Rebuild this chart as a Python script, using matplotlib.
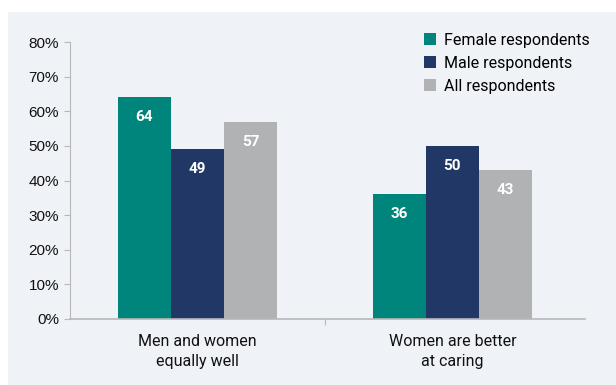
import matplotlib
matplotlib.use("Agg")
import matplotlib.pyplot as plt
from matplotlib.patches import Rectangle
from matplotlib import font_manager
import numpy as np

categories = ["Men and women\nequally well", "Women are better\nat caring"]
series_names = ["Female respondents", "Male respondents", "All respondents"]
female = [64, 36]
male = [49, 50]
all_resp = [57, 43]
yticks = [0, 10, 20, 30, 40, 50, 60, 70, 80]
ytick_labels = ["0%", "10%", "20%", "30%", "40%", "50%", "60%", "70%", "80%"]

colors = ["#00857d", "#213765", "#b1b2b4"]
bg = "#eff2f7"

names = {f.name for f in font_manager.fontManager.ttflist}
cond = "Liberation Sans Narrow" if "Liberation Sans Narrow" in names else "Roboto"
plt.rcParams["font.family"] = ["Liberation Sans", "DejaVu Sans"]

fig = plt.figure(figsize=(6.16, 3.85), dpi=100)
fig.patch.set_facecolor("white")
fig.add_artist(Rectangle((8 / 616, 0), 1, 1 - 12 / 385, transform=fig.transFigure,
                         facecolor=bg, edgecolor="none", zorder=0))

ax = fig.add_axes([70 / 616, (385 - 319) / 385, (585 - 70) / 616, (319 - 42) / 385])
ax.set_facecolor("none")

x = np.arange(len(categories))
w = 0.208
for i, (vals, name) in enumerate(zip([female, male, all_resp], series_names)):
    bars = ax.bar(x + (i - 1) * w, vals, width=w, color=colors[i], label=name, zorder=2)
    for b, v in zip(bars, vals):
        ax.text(b.get_x() + b.get_width() / 2, v - 5.8, str(v), ha="center", va="center",
                color="white", fontsize=11, fontweight="bold", family=cond, zorder=3)

ax.set_xlim(-0.5, 1.52)
ax.set_ylim(0, 80)
ax.set_yticks(yticks)
ax.set_yticklabels(ytick_labels, fontsize=11)
ax.set_xticks([0.5])
ax.set_xticklabels([""])
ax.tick_params(axis="x", length=4, color="#b8b8b8", direction="out")
ax.tick_params(axis="y", length=4, color="#b8b8b8", pad=4, labelcolor="#111111")
for s in ["top", "right"]:
    ax.spines[s].set_visible(False)
ax.spines["left"].set_color("#b8b8b8")
ax.spines["bottom"].set_color("#b8b8b8")
ax.spines["bottom"].set_linewidth(1.2)

for xi, lab in zip(x, categories):
    ax.text(xi, -4.3, lab, ha="center", va="top", fontsize=11.5, family=cond,
            color="#111111", linespacing=1.45, transform=ax.transData)

leg = ax.legend(loc="upper left", bbox_to_anchor=(340 / 515, 1.085), frameon=False,
                prop={"family": cond, "size": 11.5}, handlelength=0.75, handleheight=0.75,
                handletextpad=0.5, labelspacing=0.5)

fig.savefig("out.png", dpi=100, facecolor=fig.get_facecolor())
